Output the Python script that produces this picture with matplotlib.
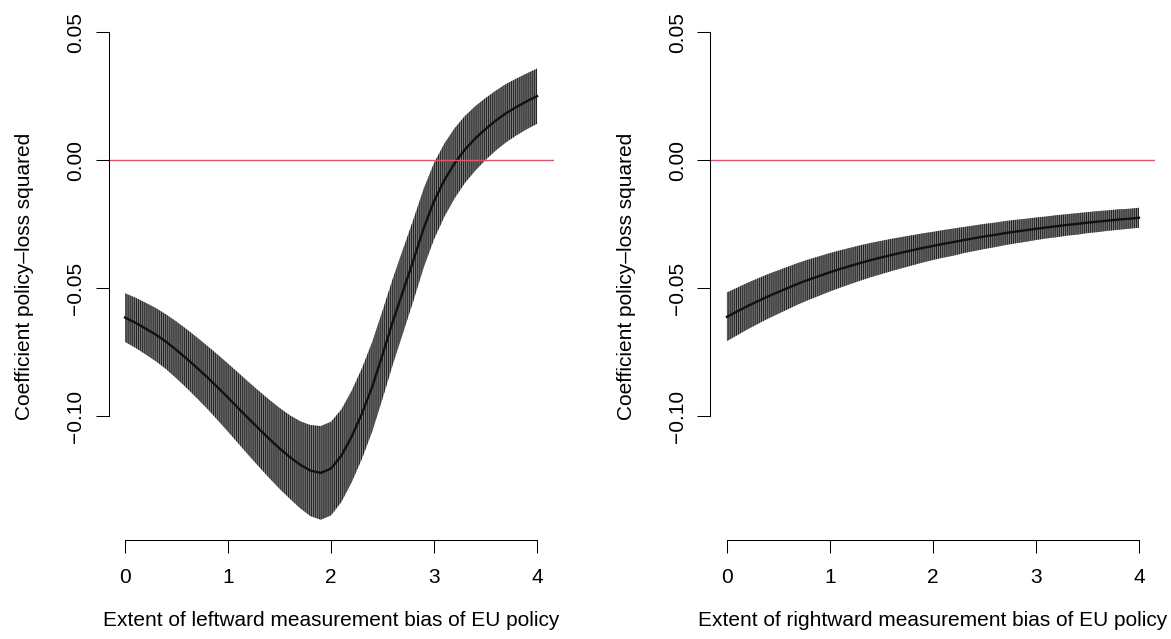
import matplotlib
matplotlib.use("Agg")
import matplotlib.pyplot as plt
import numpy as np

bias = [0.0, 0.1, 0.2, 0.3, 0.4, 0.5, 0.6, 0.7, 0.8, 0.9,
        1.0, 1.1, 1.2, 1.3, 1.4, 1.5, 1.6, 1.7, 1.8, 1.9,
        2.0, 2.1, 2.2, 2.3, 2.4, 2.5, 2.6, 2.7, 2.8, 2.9,
        3.0, 3.1, 3.2, 3.3, 3.4, 3.5, 3.6, 3.7, 3.8, 3.9, 4.0]

# leftward bias panel: coefficient and half width of the interval
left_coef = [-0.0615, -0.0635, -0.0658, -0.0682, -0.0710, -0.0742, -0.0776, -0.0812, -0.0849, -0.0888,
             -0.0928, -0.0969, -0.1010, -0.1050, -0.1089, -0.1126, -0.1160, -0.1190, -0.1213, -0.1222,
             -0.1205, -0.1155, -0.1080, -0.0990, -0.0885, -0.0760, -0.0630, -0.0510, -0.0390, -0.0265,
             -0.0160, -0.0078, -0.0012, 0.0042, 0.0085, 0.0122, 0.0155, 0.0184, 0.0208, 0.0230, 0.0250]
left_half = [0.0095, 0.0098, 0.0101, 0.0104, 0.0107, 0.0111, 0.0115, 0.0119, 0.0123, 0.0128,
             0.0133, 0.0138, 0.0143, 0.0148, 0.0153, 0.0158, 0.0163, 0.0170, 0.0178, 0.0183,
             0.0183, 0.0181, 0.0179, 0.0177, 0.0175, 0.0172, 0.0168, 0.0164, 0.0159, 0.0154,
             0.0149, 0.0143, 0.0137, 0.0131, 0.0126, 0.0121, 0.0117, 0.0114, 0.0111, 0.0109, 0.0108]

# rightward bias panel
right_coef = [-0.0612, -0.0591, -0.0570, -0.0551, -0.0532, -0.0515, -0.0498, -0.0481, -0.0466, -0.0452,
              -0.0438, -0.0425, -0.0413, -0.0401, -0.0390, -0.0380, -0.0370, -0.0361, -0.0352, -0.0343,
              -0.0335, -0.0327, -0.0320, -0.0312, -0.0305, -0.0298, -0.0292, -0.0285, -0.0279, -0.0274,
              -0.0268, -0.0263, -0.0258, -0.0253, -0.0249, -0.0244, -0.0240, -0.0236, -0.0232, -0.0229, -0.0225]
right_half = [0.0095, 0.0093, 0.0091, 0.0089, 0.0087, 0.0085, 0.0083, 0.0081, 0.0079, 0.0077,
              0.0075, 0.0073, 0.0071, 0.0069, 0.0067, 0.0065, 0.0063, 0.0061, 0.0059, 0.0057,
              0.0055, 0.0054, 0.0053, 0.0051, 0.0050, 0.0049, 0.0048, 0.0047, 0.0046, 0.0045,
              0.0044, 0.0043, 0.0043, 0.0042, 0.0042, 0.0041, 0.0041, 0.0040, 0.0040, 0.0039, 0.0039]

xticks = [0, 1, 2, 3, 4]
yticks = [-0.10, -0.05, 0.00, 0.05]
ylabels = ["\u22120.10", "\u22120.05", "0.00", "0.05"]
ylab = "Coefficient policy\u2013loss squared"
xlabs = ["Extent of leftward measurement bias of EU policy",
         "Extent of rightward measurement bias of EU policy"]

plt.rcParams['font.family'] = ['Liberation Sans', 'DejaVu Sans']
plt.rcParams['hatch.color'] = '#1e1e1e'
plt.rcParams['hatch.linewidth'] = 0.7

fig = plt.figure(figsize=(11.71, 6.39), dpi=100)
panels = [(0.0927, left_coef, left_half, xlabs[0]),
          (0.6067, right_coef, right_half, xlabs[1])]

for left, coef, half, xlab in panels:
    ax = fig.add_axes([left, 0.155, 0.380, 0.825])
    c = np.array(coef)
    h = np.array(half)
    ax.fill_between(bias, c - h, c + h, facecolor='#7f7f7f', edgecolor='#1e1e1e',
                    hatch='|' * 8, linewidth=0)
    ax.plot(bias, coef, color='#111111', lw=1.7)
    ax.axhline(0, color='#DF536B', lw=1)
    ax.set_xlim(-0.16, 4.16)
    ax.set_ylim(-0.1484, 0.0576)

    for s in ['top', 'right']:
        ax.spines[s].set_visible(False)
    ax.spines['left'].set_bounds(-0.10, 0.05)
    ax.spines['bottom'].set_bounds(0, 4)
    for s in ['left', 'bottom']:
        ax.spines[s].set_linewidth(0.75)

    ax.set_xticks(xticks)
    ax.set_xticklabels([str(t) for t in xticks])
    ax.set_yticks(yticks)
    ax.set_yticklabels(ylabels, rotation=90, va='center')
    ax.tick_params(length=9.5, width=0.75, labelsize=15)
    ax.tick_params(axis='x', pad=11)
    ax.tick_params(axis='y', pad=7.5)
    ax.set_xlabel(xlab, fontsize=15, labelpad=17)
    ax.set_ylabel(ylab, fontsize=15, labelpad=23)

fig.savefig("out.png", dpi=100)
